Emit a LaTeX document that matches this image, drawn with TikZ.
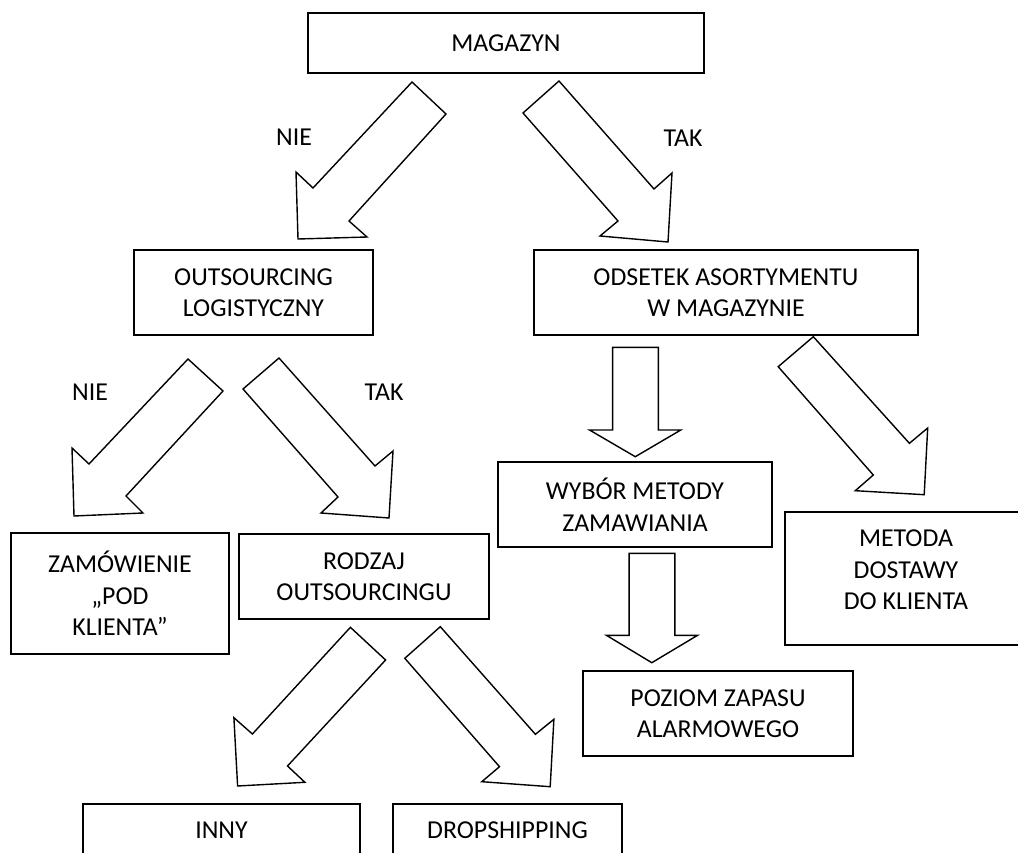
\documentclass[tikz,border=0pt]{standalone}
\usepackage{fontspec}
\setmainfont{Carlito}
\begin{document}
\begin{tikzpicture}[x=1pt,y=-1pt,
  txt/.style={font=\fontsize{25.8}{31.5}\selectfont, align=center},
  box/.style={draw, line width=1.6pt, inner sep=0pt, txt},
  lbl/.style={inner sep=0pt, txt},
  blockarrow/.style={draw, line width=1.4pt, line join=miter, fill=white}]
\useasboundingbox (0,0) rectangle (1018,853);
\clip (0,0) rectangle (1018,853);

% boxes
\node[box, minimum width=396pt, minimum height=60pt] (magazyn) at (506,43) {MAGAZYN};
\node[box, minimum width=239pt, minimum height=85pt] (outs) at (253.5,292.5) {OUTSOURCING\\LOGISTYCZNY};
\node[box, minimum width=384pt, minimum height=85pt] (odsetek) at (726,292.5) {ODSETEK ASORTYMENTU\\W MAGAZYNIE};
\node[box, minimum width=218pt, minimum height=121pt] (zam) at (120,593.5) {ZAMÓWIENIE\\„POD\\KLIENTA”};
\node[box, minimum width=250pt, minimum height=85pt] (rodzaj) at (364,576.5) {RODZAJ\\OUTSOURCINGU};
\node[box, minimum width=274pt, minimum height=85pt] (wybor) at (635,504.5) {WYBÓR METODY\\ZAMAWIANIA};
\node[box, minimum width=242pt, minimum height=133pt] (metoda) at (906,578.5) {};
\node[lbl] (metodaT) at (906,570) {METODA\\DOSTAWY\\DO KLIENTA};
\node[box, minimum width=270pt, minimum height=85pt] (poziom) at (718,713.5) {POZIOM ZAPASU\\ALARMOWEGO};
\node[box, minimum width=277pt, minimum height=96pt] (inny) at (221.5,852) {};
\node[lbl] (innyT) at (221.5,830) {INNY};
\node[box, minimum width=229pt, minimum height=96pt] (drop) at (507.5,852) {};
\node[lbl] (dropT) at (507.5,830) {DROPSHIPPING};

% labels
\node[lbl] (nie1) at (294,137) {NIE};
\node[lbl] (tak1) at (683,138) {TAK};
\node[lbl] (nie2) at (90,392) {NIE};
\node[lbl] (tak2) at (384,392) {TAK};

% block arrows
\draw[blockarrow] (412,82) -- (313,188) -- (296,172) -- (298,239) -- (367,237) -- (349,221) -- (446,114) -- cycle;
\draw[blockarrow] (559,81) -- (523,113) -- (618,221) -- (600,236) -- (668,242) -- (672,173) -- (654,189) -- cycle;
\draw[blockarrow] (188,359) -- (89,464) -- (72,448) -- (74,516) -- (143,513) -- (126,496) -- (223,391) -- cycle;
\draw[blockarrow] (279,358) -- (243,389) -- (338,497) -- (321,513) -- (389,518) -- (393,451) -- (375,466) -- cycle;
\draw[blockarrow] (612.6,347.3) -- (612.6,430) -- (589.5,430) -- (635.3,456.7) -- (680.8,430) -- (658.4,430) -- (658.4,347.3) -- cycle;
\draw[blockarrow] (813.3,336.7) -- (778.2,366.7) -- (873.3,475) -- (855.3,490.7) -- (924.2,494.7) -- (927.7,428) -- (909.4,443.3) -- cycle;
\draw[blockarrow] (629.1,553.3) -- (629.1,635.3) -- (606.4,635.3) -- (651.8,662.7) -- (697.6,635.3) -- (674.9,635.3) -- (674.9,553.3) -- cycle;
\draw[blockarrow] (350.4,627.3) -- (252.4,734) -- (233.9,717.7) -- (237.6,786) -- (304.9,782.3) -- (287.5,766) -- (385.6,660) -- cycle;
\draw[blockarrow] (440.3,626.7) -- (404.8,658.3) -- (499.5,766.7) -- (481.8,781.7) -- (550.2,786.7) -- (553.9,719.3) -- (535.4,734.3) -- cycle;
\end{tikzpicture}
\end{document}
